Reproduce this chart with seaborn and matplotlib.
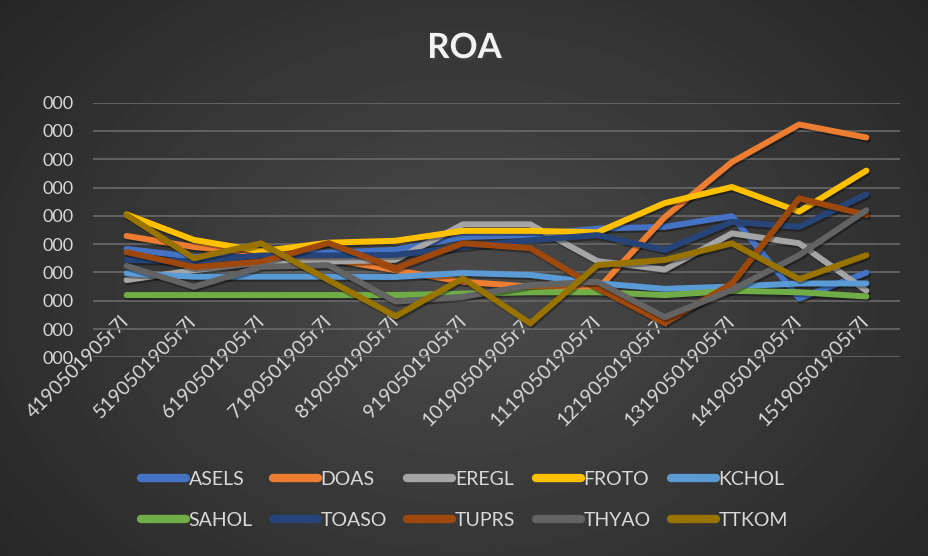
import numpy as np
import pandas as pd
import matplotlib
matplotlib.use("Agg")
import matplotlib.pyplot as plt
import matplotlib.patheffects as pe
from matplotlib.lines import Line2D
import seaborn as sns

# Donemler (x ekseni etiketleri)
donemler = ['4190501905r7l', '5190501905r7l', '6190501905r7l', '7190501905r7l',
            '8190501905r7l', '9190501905r7l', '10190501905r7l', '11190501905r7l',
            '12190501905r7l', '13190501905r7l', '14190501905r7l', '15190501905r7l']

hisseler = ['ASELS', 'DOAS', 'EREGL', 'FROTO', 'KCHOL',
            'SAHOL', 'TOASO', 'TUPRS', 'THYAO', 'TTKOM']

# ROA degerleri (grafikten okunan yaklasik degerler)
asels = [3.83, 3.55, 3.65, 3.70, 3.80, 4.25, 4.32, 4.55, 4.61, 4.99, 2.08, 2.99]
doas = [4.29, 3.90, 3.70, 3.48, 3.08, 2.67, 2.50, 2.40, 4.95, 6.90, 8.23, 7.77]
eregl = [2.73, 3.08, 3.35, 3.38, 3.45, 4.70, 4.70, 3.40, 3.10, 4.38, 4.03, 2.35]
froto = [5.05, 4.15, 3.75, 4.05, 4.12, 4.47, 4.47, 4.42, 5.45, 6.02, 5.15, 6.60]
kchol = [2.97, 2.85, 2.85, 2.85, 2.84, 2.98, 2.91, 2.62, 2.42, 2.50, 2.61, 2.61]
sahol = [2.20, 2.20, 2.20, 2.20, 2.20, 2.25, 2.30, 2.30, 2.20, 2.35, 2.30, 2.15]
toaso = [3.44, 3.40, 3.60, 3.60, 3.62, 3.90, 4.14, 4.32, 3.79, 4.79, 4.61, 5.76]
tuprs = [3.72, 3.19, 3.38, 4.04, 3.15, 4.03, 3.86, 2.45, 1.21, 2.61, 5.62, 5.03]
thyao = [3.23, 2.49, 3.20, 3.26, 1.97, 2.14, 2.55, 2.67, 1.42, 2.38, 3.61, 5.20]
ttkom = [5.03, 3.50, 4.03, 2.73, 1.45, 2.79, 1.20, 3.26, 3.44, 4.03, 2.76, 3.61]

y_etiketler = ['000'] * 10

renkler = ['#4472C4', '#ED7D31', '#A5A5A5', '#FFC000', '#5B9BD5',
           '#70AD47', '#264478', '#9E480E', '#636363', '#997300']

df = pd.DataFrame({
    'Donem': donemler * len(hisseler),
    'Hisse': np.repeat(hisseler, len(donemler)),
    'ROA': asels + doas + eregl + froto + kchol + sahol + toaso + tuprs + thyao + ttkom,
})

plt.rcParams['font.family'] = ['Lato', 'DejaVu Sans']

fig = plt.figure(figsize=(9.29, 5.56), dpi=100)

# koyu radyal arka plan
bg = fig.add_axes([0, 0, 1, 1], zorder=-1)
yy, xx = np.mgrid[0:556, 0:929]
r = np.sqrt(((xx - 465) / 560) ** 2 + ((yy - 290) / 420) ** 2)
bg.imshow(0.295 - 0.135 * r, cmap='gray', vmin=0, vmax=1, aspect='auto')
bg.axis('off')

ax = fig.add_axes([93 / 929, 1 - 357.3 / 556, 807 / 929, 254.6 / 556])
ax.set_facecolor('none')

sns.lineplot(data=df, x='Donem', y='ROA', hue='Hisse', palette=dict(zip(hisseler, renkler)),
             linewidth=4.3, sort=False, errorbar=None, legend=False, ax=ax)

for line in ax.lines:
    line.set_solid_capstyle('round')
    line.set_solid_joinstyle('round')
    line.set_path_effects([pe.SimpleLineShadow(offset=(1, -1.5), alpha=0.35), pe.Normal()])

ax.set_xlim(-0.5, len(donemler) - 0.5)
ax.set_ylim(0, 9)
ax.set_yticks(range(10))
ax.set_yticklabels(y_etiketler)
ax.set_xlabel('')
ax.set_ylabel('')
ax.grid(axis='y', color='#656565', linewidth=1.3)
ax.set_axisbelow(True)
for s in ax.spines.values():
    s.set_visible(False)

ax.tick_params(axis='y', length=0, pad=14, labelsize=13, labelcolor='#d9d9d9')
ax.tick_params(axis='x', length=0, pad=-28, labelsize=14, labelcolor='#d9d9d9')
for lab in ax.get_xticklabels():
    lab.set_rotation(45)
    lab.set_ha('right')
    lab.set_va('center')
    lab.set_rotation_mode('anchor')

# lejant satir satir (Excel gibi): 2 satir x 5 sutun
handles = [Line2D([], [], color=c, linewidth=6, solid_capstyle='round') for c in renkler]
sira = [0, 5, 1, 6, 2, 7, 3, 8, 4, 9]
ax.legend([handles[i] for i in sira], [hisseler[i] for i in sira],
          loc='center', bbox_to_anchor=(0.5, 1 - 500 / 556), bbox_transform=fig.transFigure,
          ncol=5, frameon=False, fontsize=14, labelcolor='#d9d9d9',
          handlelength=2.3, handletextpad=0.15, columnspacing=1.05, labelspacing=1.25)

fig.text(0.5, 1 - 48 / 556, 'ROA', ha='center', va='center', fontsize=25, fontweight='bold',
         color='#f2f2f2',
         path_effects=[pe.SimplePatchShadow(offset=(1.5, -1.5), alpha=0.6), pe.Normal()])

fig.savefig('out.png', dpi=100)
